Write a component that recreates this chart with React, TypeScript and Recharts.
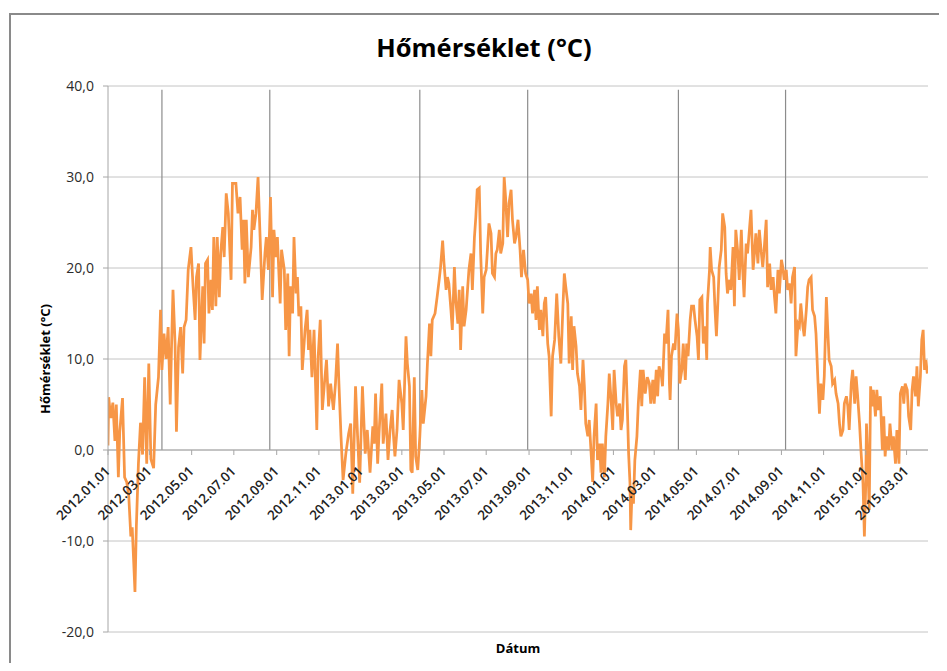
import React from "react";
import { LineChart, Line, XAxis, YAxis, CartesianGrid, ReferenceLine } from "recharts";

// Day offsets counted from 2012.01.01 and the temperature read at that day (°C)
const days2012 = [0, 1, 4, 7, 10, 12, 15, 17, 21, 24, 27, 30, 33, 35, 37, 39, 41, 44, 47, 50, 53, 56, 59, 62, 66, 69, 73, 76, 78, 81, 84, 87, 90, 92, 94, 97, 99, 102, 105, 108, 110, 113, 116, 120, 123, 126, 128, 131, 133, 137, 139, 141, 144, 146, 149, 151, 153, 156, 158, 161, 163, 166, 168, 171, 174, 178, 180, 185, 188, 191, 194, 196, 198, 200, 203, 207, 209, 211, 214, 217, 220, 223, 227, 229, 232, 235, 238, 240, 243, 245, 249, 251, 255, 257, 260, 262, 264, 267, 269, 272, 274, 276, 279, 281, 285, 288, 290, 292, 295, 298, 302, 304, 307, 310, 313, 316, 319, 322, 326, 329, 332, 334, 337, 340, 344, 348, 351, 354, 358, 361, 364];
const temps2012 = [0.5, 5.8, 3.5, 5.2, 1.0, 5.0, -3.0, 2.0, 5.7, -3.0, -3.5, -5.0, -9.5, -8.5, -12.0, -15.6, -8.4, -1.5, 3.0, -0.5, 8.0, -1.5, 9.5, -1.0, -2.0, 5.0, 8.0, 15.4, 8.8, 12.8, 10.0, 13.5, 5.0, 11.7, 17.6, 11.7, 2.0, 11.3, 13.5, 8.4, 13.5, 14.3, 19.8, 22.3, 18.0, 14.3, 19.0, 20.5, 9.9, 18.0, 11.7, 20.5, 20.9, 15.0, 18.7, 15.4, 23.4, 15.8, 23.4, 16.8, 21.6, 24.5, 21.2, 28.2, 26.0, 18.7, 29.3, 29.3, 26.0, 27.8, 22.0, 25.3, 18.3, 25.3, 19.0, 22.3, 26.4, 24.2, 26.0, 30.0, 23.4, 16.5, 21.6, 23.4, 19.8, 27.8, 16.8, 24.2, 21.2, 23.4, 16.1, 22.0, 19.8, 13.2, 19.4, 10.3, 18.0, 15.0, 23.4, 17.2, 19.0, 14.7, 15.8, 8.8, 13.2, 15.4, 11.0, 13.2, 8.0, 13.2, 2.2, 10.3, 14.3, 4.4, 7.3, 9.9, 4.8, 7.3, 4.4, 7.3, 11.7, 7.3, 1.5, -3.3, -0.4, 1.8, 2.9, -4.8, 7.0, 1.5, -3.6];

const days2013 = [368, 372, 375, 379, 383, 385, 387, 390, 392, 396, 398, 402, 405, 408, 411, 413, 415, 418, 421, 425, 427, 431, 433, 436, 438, 440, 443, 445, 448, 451, 454, 456, 460, 462, 465, 467, 469, 473, 476, 479, 481, 484, 486, 489, 491, 493, 496, 498, 501, 503, 506, 508, 510, 513, 515, 518, 520, 522, 525, 527, 530, 532, 534, 537, 539, 542, 544, 547, 549, 551, 554, 556, 559, 561, 563, 566, 568, 571, 573, 575, 578, 580, 583, 585, 588, 590, 593, 596, 598, 601, 604, 607, 609, 612, 614, 617, 619, 621, 624, 626, 629, 631, 633, 636, 638, 641, 643, 646, 649, 652, 655, 658, 660, 662, 665, 667, 670, 672, 674, 677, 679, 682, 684, 687, 689, 691, 694, 696, 699, 701, 703, 706, 708, 711, 713, 715, 718, 720, 723, 725, 728, 730];
const temps2013 = [7.0, -0.4, 2.2, -2.5, 2.6, 0.7, 6.2, -1.5, 1.8, 7.3, 0.7, 4.0, -1.1, 2.2, 4.4, 1.5, -0.7, 2.2, 7.7, 5.1, 2.2, 12.5, 9.5, 7.0, -2.2, -2.5, 8.0, -0.7, -2.2, 1.5, 6.6, 2.9, 5.9, 9.5, 13.9, 10.3, 14.3, 15.0, 16.8, 18.7, 20.1, 23.0, 20.5, 17.6, 19.0, 18.3, 15.4, 13.2, 20.1, 16.5, 13.9, 17.6, 11.0, 18.0, 13.6, 15.4, 17.6, 19.8, 21.6, 17.6, 23.4, 25.6, 28.6, 28.8, 21.6, 15.0, 19.0, 19.8, 22.3, 24.9, 23.8, 19.4, 19.0, 21.6, 22.0, 24.2, 21.6, 22.7, 30.0, 27.8, 23.4, 27.1, 28.6, 25.3, 22.7, 23.4, 25.3, 22.0, 19.0, 22.0, 19.4, 18.7, 16.1, 17.2, 15.0, 17.6, 14.3, 18.0, 13.2, 15.4, 12.5, 16.1, 16.8, 11.7, 10.3, 3.7, 10.3, 12.1, 17.2, 12.5, 9.5, 15.8, 19.4, 18.0, 16.1, 9.5, 14.7, 8.8, 13.6, 11.4, 8.4, 7.0, 4.4, 9.9, 7.0, 2.9, 1.5, 3.3, -0.7, -3.5, 1.5, 5.1, -1.1, 0.7, -2.5, 0.7, -3.0, 1.5, 5.1, 8.4, 5.1, 2.2];

const days2014 = [732, 735, 737, 740, 742, 744, 747, 749, 751, 753, 755, 756, 758, 760, 762, 765, 767, 770, 772, 774, 777, 780, 783, 785, 788, 790, 793, 795, 797, 800, 802, 805, 807, 810, 812, 813, 815, 818, 820, 823, 825, 827, 830, 832, 835, 837, 839, 842, 844, 847, 849, 852, 854, 856, 859, 861, 864, 866, 867, 870, 871, 873, 876, 878, 880, 882, 884, 887, 889, 892, 894, 896, 899, 901, 904, 906, 908, 911, 913, 916, 918, 920, 923, 925, 928, 930, 933, 935, 937, 940, 942, 945, 947, 949, 952, 954, 957, 959, 962, 964, 966, 969, 971, 974, 976, 978, 981, 983, 986, 988, 990, 993, 995, 998, 1000, 1002, 1005, 1007, 1010, 1012, 1014, 1017, 1019, 1022, 1024, 1027, 1029, 1031, 1034, 1036, 1039, 1041, 1043, 1046, 1048, 1051, 1053, 1056, 1058, 1060, 1063, 1065, 1068, 1070, 1072, 1075, 1077, 1080, 1082, 1084, 1087, 1089, 1092, 1094];
const temps2014 = [8.8, 5.1, 3.7, 5.1, 2.2, 3.3, 9.2, 9.9, 5.1, -0.4, -3.7, -8.8, -4.4, -5.9, -1.1, 1.5, 5.1, 8.8, 4.8, 8.8, 6.2, 8.0, 7.3, 5.1, 7.7, 5.1, 8.8, 5.9, 9.2, 8.4, 7.0, 12.8, 11.7, 15.4, 7.3, 5.5, 10.3, 11.7, 11.0, 15.0, 13.2, 7.3, 8.8, 11.7, 7.7, 11.7, 10.3, 14.3, 15.8, 15.8, 14.3, 12.5, 9.9, 16.5, 16.8, 11.7, 13.6, 9.9, 16.1, 19.8, 22.3, 19.8, 19.0, 15.4, 12.5, 16.1, 20.1, 22.0, 26.0, 24.5, 19.4, 17.2, 18.7, 17.6, 22.3, 15.8, 24.2, 21.6, 18.7, 24.2, 19.8, 16.8, 22.7, 21.6, 24.5, 26.4, 19.8, 21.6, 23.8, 20.5, 24.2, 21.6, 20.1, 22.0, 25.3, 17.9, 20.5, 17.6, 19.0, 16.8, 15.0, 19.8, 17.2, 20.9, 20.1, 18.7, 19.8, 17.6, 18.3, 16.1, 19.0, 20.1, 10.3, 13.9, 13.6, 16.1, 13.6, 12.5, 15.4, 17.9, 18.7, 19.0, 15.4, 14.7, 12.8, 7.3, 4.0, 7.3, 5.5, 8.1, 16.8, 13.2, 9.9, 9.2, 7.3, 7.7, 6.2, 5.1, 2.9, 1.5, 2.2, 5.1, 5.9, 4.8, 2.2, 7.3, 8.8, 5.1, 8.1, 6.2, 2.9, 0.0, -3.7, -9.5];

const days2015 = [1096, 1097, 1099, 1101, 1103, 1105, 1107, 1110, 1112, 1114, 1117, 1120, 1122, 1124, 1126, 1129, 1131, 1134, 1136, 1139, 1141, 1144, 1146, 1149, 1151, 1153, 1156, 1158, 1161, 1163, 1165, 1168, 1170, 1172, 1175, 1177, 1179, 1181, 1183, 1185];
const temps2015 = [-3.7, 2.9, -1.5, -6.6, 7.0, 4.8, 6.6, 3.7, 6.6, 4.4, 5.9, 0.0, 3.7, -0.7, 1.5, 0.0, 2.9, 0.0, 1.5, -1.5, 2.2, -1.5, 6.2, 7.0, 5.1, 7.3, 6.6, 3.7, 2.2, 6.6, 8.1, 5.9, 9.2, 4.8, 8.1, 12.1, 13.2, 8.8, 9.9, 8.4];

const tickLabels = ["2012.01.01", "2012.03.01", "2012.05.01", "2012.07.01", "2012.09.01", "2012.11.01", "2013.01.01", "2013.03.01", "2013.05.01", "2013.07.01", "2013.09.01", "2013.11.01", "2014.01.01", "2014.03.01", "2014.05.01", "2014.07.01", "2014.09.01", "2014.11.01", "2015.01.01", "2015.03.01"];
const markerDates = ["2012.03.19", "2012.08.22", "2013.03.27", "2013.08.30", "2014.04.05", "2014.09.07"];
const yTicks = [-20, -10, 0, 10, 20, 30, 40];
const lastDay = 1186;

const TITLE = "Hőmérséklet (°C)";
const Y_TITLE = "Hőmérséklet (°C)";
const X_TITLE = "Dátum";

const DAY_MS = 86400000;
const BASE = Date.UTC(2012, 0, 1);
const toDay = (s: string) => {
  const [y, m, d] = s.split(".").map(Number);
  return Math.round((Date.UTC(y, m - 1, d) - BASE) / DAY_MS);
};
const fromDay = (n: number) => {
  const dt = new Date(BASE + n * DAY_MS);
  const p = (v: number) => String(v).padStart(2, "0");
  return `${dt.getUTCFullYear()}.${p(dt.getUTCMonth() + 1)}.${p(dt.getUTCDate())}`;
};

const allDays = [...days2012, ...days2013, ...days2014, ...days2015];
const allTemps = [...temps2012, ...temps2013, ...temps2014, ...temps2015];
const data = allDays.map((d, i) => ({ day: d, temp: allTemps[i] }));
const tickDays = tickLabels.map(toDay);
const markerDays = markerDates.map(toDay);

const W = 931;
const H = 655;
const M = { top: 78, right: 11, bottom: 30, left: 0 };
const X_AXIS_H = 1;
const PLOT_H = H - M.top - M.bottom - X_AXIS_H;
const Y_MIN = -20;
const Y_MAX = 40;
const ZERO_SHIFT = (PLOT_H * (0 - Y_MIN)) / (Y_MAX - Y_MIN);

const FONT = "'Open Sans', 'DejaVu Sans', sans-serif";
const AXIS_GREY = "#a6a6a6";

const XTick = (props: any) => {
  const { x, y, payload } = props;
  const zy = y - ZERO_SHIFT;
  const ax = x + 3;
  const ay = zy + 22;
  return (
    <g>
      <line x1={x} x2={x} y1={zy} y2={zy + 5} stroke={AXIS_GREY} strokeWidth={1} />
      <text
        x={ax}
        y={ay}
        transform={`rotate(-45, ${ax}, ${ay})`}
        textAnchor="end"
        fontFamily={FONT}
        fontSize={13.5}
        fontWeight={600}
        fill="#222"
      >
        {fromDay(payload.value)}
      </text>
    </g>
  );
};

export default function App() {
  return (
    <div style={{ position: "relative", width: W, height: H, overflow: "hidden", background: "#fff" }}>
      <div
        style={{
          position: "absolute",
          left: 1,
          top: 5,
          width: 2000,
          height: 2000,
          borderLeft: "2px solid #8a8a8a",
          borderTop: "2px solid #8a8a8a",
        }}
      />
      <div style={{ position: "absolute", left: 0, top: 0 }}>
        <LineChart width={W} height={H} data={data} margin={M}>
          <CartesianGrid vertical={false} stroke="#c4c4c4" strokeWidth={1} />
          <XAxis
            dataKey="day"
            type="number"
            domain={[0, lastDay]}
            ticks={tickDays}
            interval={0}
            height={X_AXIS_H}
            axisLine={false}
            tickLine={false}
            tickSize={0}
            tickMargin={0}
            tick={<XTick />}
            allowDataOverflow
          />
          <YAxis
            type="number"
            domain={[Y_MIN, Y_MAX]}
            ticks={yTicks}
            interval={0}
            width={100}
            stroke={AXIS_GREY}
            tickSize={5}
            tickMargin={9}
            tick={{ fontFamily: FONT, fontSize: 14, fill: "#2b2b2b" }}
            tickFormatter={(v: number) => v.toFixed(1).replace(".", ",")}
            allowDataOverflow
          />
          {markerDays.map((d) => (
            <ReferenceLine
              key={d}
              segment={[
                { x: d, y: 39.6 },
                { x: d, y: 0 },
              ]}
              stroke="#8c8c8c"
              strokeWidth={1.2}
            />
          ))}
          <ReferenceLine y={0} stroke={AXIS_GREY} strokeWidth={1} />
          <Line
            type="linear"
            dataKey="temp"
            stroke="#f79646"
            strokeWidth={2.75}
            dot={false}
            isAnimationActive={false}
          />
        </LineChart>
      </div>
      <svg
        width={W}
        height={H}
        style={{ position: "absolute", left: 0, top: 0, pointerEvents: "none" }}
      >
        <text
          x={476}
          y={49}
          textAnchor="middle"
          fontFamily={FONT}
          fontWeight="bold"
          fontSize={25.5}
          fill="#000"
        >
          {TITLE}
        </text>
        <text
          x={42}
          y={351}
          transform="rotate(-90, 42, 351)"
          textAnchor="middle"
          fontFamily={FONT}
          fontWeight="bold"
          fontSize={13}
          fill="#000"
        >
          {Y_TITLE}
        </text>
        <text
          x={510}
          y={645}
          textAnchor="middle"
          fontFamily={FONT}
          fontWeight="bold"
          fontSize={13}
          fill="#000"
        >
          {X_TITLE}
        </text>
      </svg>
    </div>
  );
}
